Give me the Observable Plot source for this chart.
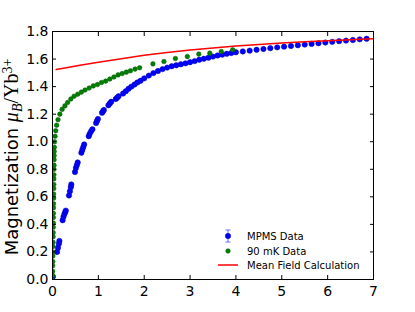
<!DOCTYPE html>
<html><head><meta charset="utf-8">
<script src="https://cdn.jsdelivr.net/npm/d3@7"></script>
<script src="https://cdn.jsdelivr.net/npm/@observablehq/plot@0.6"></script>
<style>body{margin:0;background:#fff} svg{display:block}</style>
</head><body><div id="chart"></div>
<script>
// MPMS data (field in T, magnetization in mu_B / Yb3+)
const mpmsX = [0.01,
  0.10,0.12,0.14,0.15,
  0.22,0.24,0.26,0.28,0.29,
  0.36,0.38,0.40,0.41,
  0.49,0.51,0.53,0.55,
  0.63,0.65,0.67,0.69,
  0.79,0.81,0.84,0.87,
  0.95,0.97,0.99,
  1.08,1.10,1.12,
  1.22,1.25,1.28,
  1.38,1.41,1.44,
  1.54,1.60,1.66,1.72,1.79,1.85,1.92,
  2.0,2.1,2.2,2.3,2.4,2.5,2.6,2.7,2.8,2.9,3.0,3.1,3.2,3.3,3.4,3.5,3.6,3.7,3.8,3.9,4.0,
  4.15,4.3,4.45,4.6,4.75,4.9,5.05,5.2,5.35,5.5,5.65,5.8,5.95,6.1,6.25,6.4,6.55,6.7,6.85];
const mpmsY = [0.02,
  0.20,0.23,0.26,0.28,
  0.43,0.455,0.475,0.49,0.50,
  0.61,0.64,0.67,0.69,
  0.78,0.81,0.83,0.85,
  0.92,0.94,0.96,0.98,
  1.04,1.057,1.075,1.09,
  1.135,1.15,1.165,
  1.21,1.22,1.23,
  1.265,1.278,1.29,
  1.31,1.32,1.33,
  1.35,1.367,1.385,1.40,1.415,1.43,1.442,
  1.46,1.48,1.498,1.513,1.527,1.538,1.548,1.555,1.562,1.569,1.577,1.585,1.595,1.602,1.61,1.618,1.626,1.632,1.638,1.644,1.649,
  1.655,1.661,1.667,1.673,1.679,1.685,1.69,1.695,1.70,1.705,1.71,1.715,1.72,1.725,1.73,1.734,1.738,1.743,1.747];

// 90 mK data
const mkX = [0.000,0.002,0.004,0.005,0.007,0.008,0.010,0.011,0.012,0.014,0.015,0.016,0.018,0.019,0.020,0.021,0.023,0.024,0.025,0.027,0.028,0.029,0.031,0.032,0.034,0.035,0.037,0.038,
  0.040,0.045,0.055,0.07,0.09,0.12,0.16,0.21,0.27,0.33,0.40,0.47,0.55,0.63,0.71,0.80,0.89,0.98,1.07,1.16,1.25,1.34,1.43,1.52,1.61,1.70,1.80,1.90,
  2.19,2.43,2.68,2.94,3.19,3.43,3.68,3.93];
const mkY = [0.00,0.03,0.06,0.10,0.13,0.17,0.20,0.24,0.27,0.31,0.34,0.38,0.41,0.45,0.48,0.52,0.55,0.59,0.62,0.66,0.69,0.73,0.76,0.80,0.83,0.87,0.90,0.93,
  0.96,1.00,1.04,1.08,1.12,1.16,1.20,1.235,1.26,1.285,1.31,1.33,1.345,1.36,1.375,1.39,1.405,1.415,1.43,1.44,1.455,1.47,1.485,1.495,1.505,1.515,1.527,1.537,
  1.565,1.582,1.604,1.618,1.636,1.643,1.655,1.667];

// Mean field calculation
const mfX = [0.08,0.3,0.6,1.0,1.5,2.0,2.5,3.0,3.5,4.0,4.5,5.0,5.5,6.0,6.5,7.0];
const mfY = [1.524,1.537,1.555,1.577,1.602,1.628,1.648,1.666,1.681,1.694,1.706,1.716,1.725,1.733,1.740,1.747];

const xTicks = [0,1,2,3,4,5,6,7];
const yTicks = [0,0.2,0.4,0.6,0.8,1.0,1.2,1.4,1.6,1.8];
const legendLabels = ["MPMS Data","90 mK Data","Mean Field Calculation"];

const mpms = mpmsX.map((x,i)=>({x, y: mpmsY[i]}));
const mk = mkX.map((x,i)=>({x, y: mkY[i]}));
const mf = mfX.map((x,i)=>({x, y: mfY[i]}));

const W = 415, H = 312, ml = 52, mr = 42, mt = 31, mb = 33;
const fmt = d3.format(".1f");

const chart = Plot.plot({
  width: W, height: H,
  marginLeft: ml, marginRight: mr, marginTop: mt, marginBottom: mb,
  style: {fontFamily: "DejaVu Sans", fontSize: "14px", background: "white", color: "black", overflow: "visible"},
  x: {domain: [0, 7]},
  y: {domain: [0, 1.8]},
  marks: [
    Plot.dot(mpms, {x: "x", y: "y", r: 2.7, fill: "#0000ff", stroke: "#0000b0", strokeWidth: 0.5, clip: true}),
    Plot.dot(mk, {x: "x", y: "y", r: 2.3, fill: "#008000", stroke: "#005800", strokeWidth: 0.5, clip: true}),
    Plot.line(mf, {x: "x", y: "y", stroke: "#ff0000", strokeWidth: 1.5, clip: true}),
    Plot.axisX({anchor: "bottom", ticks: xTicks, tickSize: -4, tickPadding: 11, tickFormat: d => String(d), label: null}),
    Plot.axisX({anchor: "top", ticks: xTicks, tickSize: -4, tickFormat: () => "", label: null}),
    Plot.axisY({anchor: "left", ticks: yTicks, tickSize: -4, tickPadding: 8, tickFormat: fmt, label: null}),
    Plot.axisY({anchor: "right", ticks: yTicks, tickSize: -4, tickFormat: () => "", label: null}),
    Plot.frame({stroke: "black", strokeWidth: 1})
  ]
});
document.getElementById("chart").appendChild(chart);

const svg = d3.select(chart);
// y-axis label
const yl = svg.append("text")
  .attr("transform", `translate(18,${(mt + H - mb)/2 + 2}) rotate(-90)`)
  .attr("text-anchor", "middle")
  .attr("fill", "black");
yl.append("tspan").attr("font-family", "DejaVu Sans").attr("font-size", 18).text("Magnetization ");
yl.append("tspan").attr("font-family", "Liberation Serif").attr("font-style", "italic").attr("font-size", 20).text("μ");
yl.append("tspan").attr("font-family", "Liberation Serif").attr("font-style", "italic").attr("font-size", 14).attr("dy", 4).text("B");
yl.append("tspan").attr("font-family", "Liberation Serif").attr("font-size", 20).attr("dy", -4).text("/Yb");
yl.append("tspan").attr("font-family", "Liberation Serif").attr("font-size", 14).attr("dy", -6).text("3+");

// legend
const lg = svg.append("g").attr("font-family", "DejaVu Sans").attr("font-size", 10).attr("text-anchor", "start");
const lx = 228, ltx = 247, ly = [236, 251, 265];
lg.append("line").attr("x1", lx).attr("x2", lx).attr("y1", ly[0]-6).attr("y2", ly[0]+6).attr("stroke", "#6a6aff");
lg.append("line").attr("x1", lx-2.5).attr("x2", lx+2.5).attr("y1", ly[0]-6).attr("y2", ly[0]-6).attr("stroke", "#6a6aff");
lg.append("line").attr("x1", lx-2.5).attr("x2", lx+2.5).attr("y1", ly[0]+6).attr("y2", ly[0]+6).attr("stroke", "#6a6aff");
lg.append("circle").attr("cx", lx).attr("cy", ly[0]).attr("r", 2.7).attr("fill", "#0000ff").attr("stroke", "#0000b0").attr("stroke-width", 0.5);
lg.append("circle").attr("cx", lx).attr("cy", ly[1]).attr("r", 2.3).attr("fill", "#008000").attr("stroke", "#005800").attr("stroke-width", 0.5);
lg.append("line").attr("x1", lx-10).attr("x2", lx+10).attr("y1", ly[2]).attr("y2", ly[2]).attr("stroke", "#ff0000").attr("stroke-width", 1.5);
legendLabels.forEach((t, i) => {
  lg.append("text").attr("x", ltx).attr("y", ly[i]).attr("dy", "0.35em").attr("text-anchor", "start").attr("fill", "black").text(t);
});
</script>
</body></html>
